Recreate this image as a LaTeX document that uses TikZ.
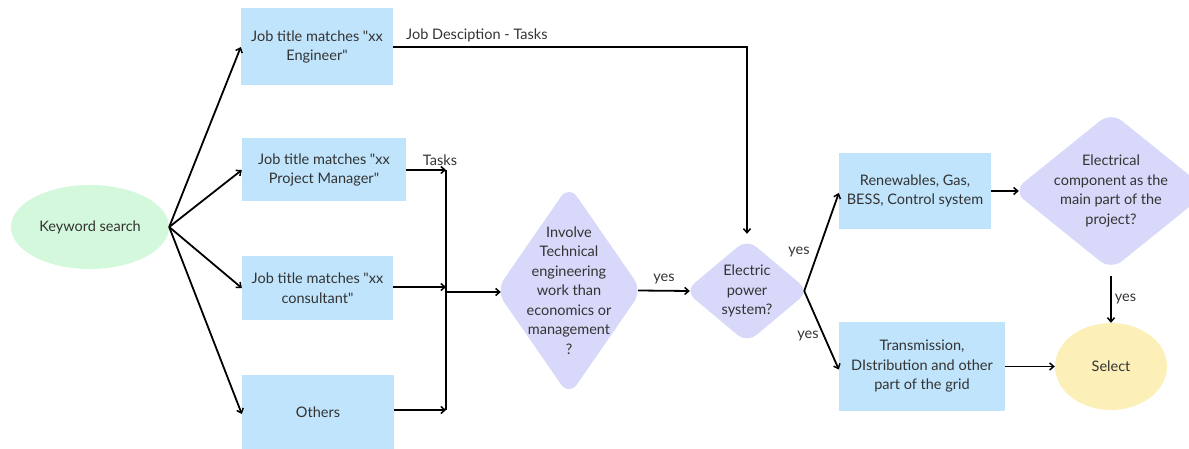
\documentclass[tikz,border=0pt]{standalone}
\usepackage{fontspec}
\setmainfont{Lato}[Ligatures=TeXOff]
\usetikzlibrary{shapes.geometric,arrows.meta}
\definecolor{boxblue}{HTML}{C0E4FC}
\definecolor{kwgreen}{HTML}{D4F8DC}
\definecolor{dlav}{HTML}{D8D8FA}
\definecolor{selyel}{HTML}{FCF0B8}
\definecolor{txt}{HTML}{333333}
\tikzset{
  box/.style={rectangle, fill=boxblue, draw=none, text=txt, align=center, inner sep=0pt},
  oval/.style={ellipse, draw=none, text=txt, align=center, inner sep=0pt},
  dshape/.style={diamond, fill=dlav, draw=none, inner sep=0pt, rounded corners=14pt},
  dtext/.style={text=txt, align=center, inner sep=0pt},
  arr/.style={line width=1.8pt, -{Straight Barb[length=4pt,width=7pt,line width=1.5pt]}},
  ln/.style={line width=1.8pt},
  lab/.style={text=txt, inner sep=0pt}
}
\begin{document}
\begin{tikzpicture}[x=1pt,y=-1pt,font=\fontsize{14.5}{19.5}\selectfont]
\useasboundingbox (0,0) rectangle (1189,449);
\begin{scope}
\clip (0,0) rectangle (1189,449);
% nodes
\node[oval, fill=kwgreen, minimum width=158pt, minimum height=84pt] (kw) at (90,227) {Keyword search};
\node[box, minimum width=152pt, minimum height=77pt] (b1) at (317,47) {Job title matches "xx\\Engineer"};
\node[box, minimum width=164pt, minimum height=63pt] (b2) at (324,170) {Job title matches "xx\\Project Manager"};
\node[box, minimum width=151pt, minimum height=64pt] (b3) at (317.5,288) {Job title matches "xx\\consultant"};
\node[box, minimum width=152pt, minimum height=74pt] (b4) at (318,412) {Others};
\node[dshape, minimum width=146pt, minimum height=211pt] (d1) at (569,290.5) {};
\node[dtext] (d1t) at (d1.center) {Involve\\Technical\\engineering\\work than\\economics or\\management\\?};
\node[dshape, minimum width=124pt, minimum height=104pt, rounded corners=12pt] (d2) at (747,291) {};
\node[dtext] (d2t) at (d2.center) {Electric\\power\\system?};
\node[box, minimum width=152pt, minimum height=76pt] (ren) at (915,191) {Renewables, Gas,\\BESS, Control system};
\node[box, minimum width=166pt, minimum height=89pt] (tra) at (922,366.5) {Transmission,\\DIstribution and other\\part of the grid};
\node[dshape, minimum width=196pt, minimum height=158pt] (d3) at (1111,191) {};
\node[dtext] (d3t) at (d3.center) {Electrical\\component as the\\main part of the\\project?};
\node[oval, fill=selyel, minimum width=112pt, minimum height=87pt] (sel) at (1111,366.5) {Select};
% merge coordinates
\coordinate (m2) at (446,170);
\coordinate (m3) at (446,287);
\coordinate (mo) at (446,292);
\coordinate (m4) at (446,410);
\coordinate (jd) at (747,47);
% connectors
\draw[arr] (kw.east) -- (b1.west);
\draw[arr] (kw.east) -- (b2.west);
\draw[arr] (kw.east) -- (b3.west);
\draw[arr] (kw.east) -- ([yshift=-2pt]b4.west);
\draw[arr] (b2.east) -- (m2);
\draw[arr] (b3.east |- m3) -- (m3);
\draw[arr] (b4.east |- m4) -- (m4);
\draw[ln] (m2) -- (m4);
\draw[arr] (mo) -- ([xshift=5pt]d1.west |- mo);
\node[lab, anchor=south] (tasks) at (440,166) {Tasks};
\draw[arr] (b1.east) -- (jd) -- ([yshift=5pt]d2.north);
\node[lab, anchor=south west] (jdl) at (406,42) {Job Desciption - Tasks};
\draw[arr] ([xshift=-4pt]d1.east) -- ([xshift=5pt]d2.west) node[lab, midway, above=6pt] {yes};
\draw[arr] ([xshift=-5pt]d2.east) -- ([yshift=-2pt]ren.west);
\draw[arr] ([xshift=-5pt]d2.east) -- ([yshift=-3pt]tra.west);
\node[lab] (y1) at (799,252) {yes};
\node[lab] (y2) at (808,336) {yes};
\draw[arr] (ren.east) -- ([xshift=6pt]d3.west);
\draw[arr] (tra.east) -- (sel.west);
\draw[arr] ([yshift=-6pt]d3.south) -- (sel.north) node[lab, midway, right=3pt] {yes};
\end{scope}
\end{tikzpicture}
\end{document}
